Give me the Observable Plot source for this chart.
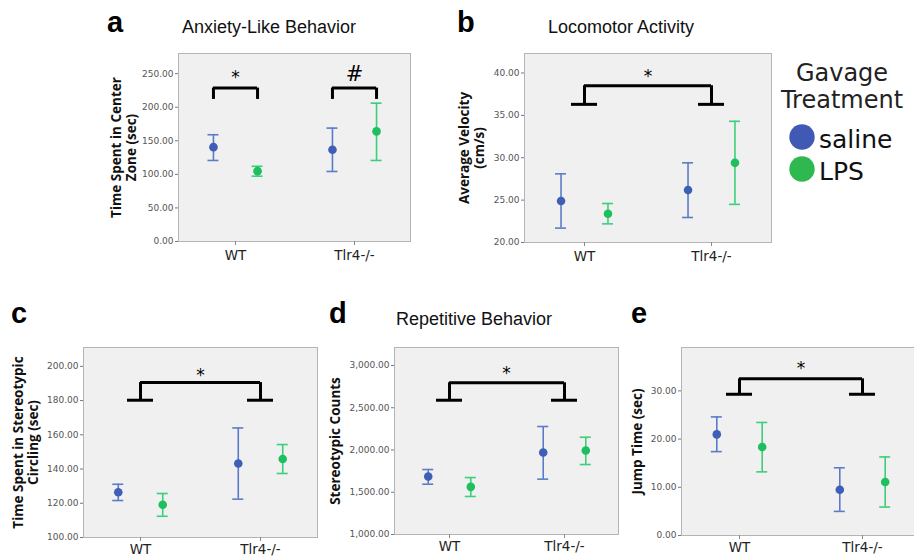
<!DOCTYPE html>
<html>
<head>
<meta charset="utf-8">
<script src="https://cdn.jsdelivr.net/npm/d3@7"></script>
<script src="https://cdn.jsdelivr.net/npm/@observablehq/plot@0.6"></script>
<style>
  html, body { margin: 0; padding: 0; background: #fff; overflow: hidden; }
  #root { position: relative; width: 914px; height: 558px; font-family: "Liberation Sans", Arial, sans-serif; }
  .abs { position: absolute; }
  .letter { position: absolute; font-weight: bold; font-size: 29px; line-height: 1; color: #000; }
  .ptitle { position: absolute; font-size: 18px; line-height: 1; color: #111; white-space: nowrap; }
  .legtitle { position: absolute; font-family: "DejaVu Sans", sans-serif; font-size: 24px; line-height: 27px; color: #222; text-align: center; width: 150px; }
</style>
</head>
<body>
<div id="root"></div>
<script>
// ---------------- DATA ----------------
const groups = ["WT", "Tlr4-/-"];
const treatments = ["saline", "LPS"];
// order of values: WT saline, WT LPS, Tlr4-/- saline, Tlr4-/- LPS

// a: Anxiety-Like Behavior — Time Spent in Center Zone (sec)
const anxietyMean = [140.5, 104.8, 136.6, 164];
const anxietyLow  = [120.7, 97.3, 104.3, 120.7];
const anxietyHigh = [159, 112, 168.9, 206];
const anxietyTicks = [0, 50, 100, 150, 200, 250];

// b: Locomotor Activity — Average Velocity (cm/s)
const velocityMean = [24.9, 23.4, 26.2, 29.4];
const velocityLow  = [21.7, 22.2, 22.95, 24.5];
const velocityHigh = [28.1, 24.6, 29.4, 34.3];
const velocityTicks = [20, 25, 30, 35, 40];

// c: Time Spent in Stereotypic Circling (sec)
const circlingMean = [126.4, 119.1, 143.2, 145.9];
const circlingLow  = [121.6, 112.4, 122.4, 137.4];
const circlingHigh = [131.1, 125.7, 164, 154.3];
const circlingTicks = [100, 120, 140, 160, 180, 200];

// d: Repetitive Behavior — Stereotypic Counts
const countsMean = [1686, 1564, 1970, 1994];
const countsLow  = [1595, 1450, 1655, 1828];
const countsHigh = [1769, 1674, 2278, 2151];
const countsTicks = [1000, 1500, 2000, 2500, 3000];

// e: Jump Time (sec)
const jumpMean = [20.97, 18.35, 9.5, 11.1];
const jumpLow  = [17.4, 13.2, 5.0, 5.9];
const jumpHigh = [24.6, 23.45, 14.05, 16.3];
const jumpTicks = [0, 10, 20, 30];

// significance brackets: [foot level, top level, symbol level]
const anxietyBracket  = [211.6, 228.5, 247];
const velocityBracket = [36.3, 38.5, 39.9];
const circlingBracket = [180.2, 190.5, 196.6];
const countsBracket   = [2589, 2795, 2941];
const jumpBracket     = [29.3, 32.5, 35.2];

// ---------------- STYLE ----------------
const dotColor  = {saline: "#3e5fb5", LPS: "#1dbf5e"};
const lineColor = {saline: "#5a7cc8", LPS: "#3ccf7a"};
const fmt = d3.format(",.2f");

function rows(mean, low, high) {
  const out = [];
  groups.forEach((g, gi) => treatments.forEach((t, ti) => {
    const i = gi * 2 + ti;
    out.push({group: g, treatment: t, mean: mean[i], low: low[i], high: high[i]});
  }));
  return out;
}

function panel(cfg) {
  const data = rows(cfg.mean, cfg.low, cfg.high);
  const frameW = cfg.width - cfg.ml - cfg.mr;
  const off = 0.095 * frameW;
  const marks = [
    Plot.frame({fill: "#f0f0f0", stroke: "#b4b4b4"}),
    Plot.axisY(cfg.ticks, {tickSize: 3, tickPadding: 2, tickFormat: fmt, fontSize: 9, fill: "#555", stroke: "#777", fontFamily: "DejaVu Sans, sans-serif"}),
    Plot.axisX(groups, {tickSize: 4, tickPadding: cfg.xpad, fontSize: 13.5, fill: "#222", stroke: "#888", fontFamily: "DejaVu Sans, sans-serif", label: null}),
    Plot.text([cfg.ylabel], {frameAnchor: "left", textAnchor: "middle", lineAnchor: "middle", rotate: -90, dx: cfg.labelDx, text: d => d, fontWeight: "bold", fontSize: 13.5, lineHeight: 1.12, fill: "#111", fontFamily: "Open Sans, sans-serif"})
  ];
  for (const t of treatments) {
    const sub = data.filter(d => d.treatment === t);
    const dx = t === "saline" ? -off : off;
    marks.push(
      Plot.ruleX(sub, {x: "group", y1: "low", y2: "high", stroke: lineColor[t], strokeWidth: 1.6, dx}),
      Plot.ruleY(sub, {x1: "group", x2: "group", y: "low", insetLeft: -5.5, insetRight: -5.5, stroke: lineColor[t], strokeWidth: 1.6, dx}),
      Plot.ruleY(sub, {x1: "group", x2: "group", y: "high", insetLeft: -5.5, insetRight: -5.5, stroke: lineColor[t], strokeWidth: 1.6, dx}),
      Plot.dot(sub, {x: "group", y: "mean", r: 4.3, fill: dotColor[t], dx})
    );
  }
  const [foot, top, sym] = cfg.bracket;
  const bw = 3;
  if (cfg.within) {
    for (const [gi, s] of cfg.symbols.entries()) {
      const g = [groups[gi]];
      marks.push(
        Plot.ruleY(g, {x1: d => d, x2: d => d, y: () => top, insetLeft: -off, insetRight: -off, stroke: "#000", strokeWidth: bw}),
        Plot.ruleX(g, {x: d => d, y1: () => foot, y2: () => top, dx: -off, stroke: "#000", strokeWidth: bw}),
        Plot.ruleX(g, {x: d => d, y1: () => foot, y2: () => top, dx: off, stroke: "#000", strokeWidth: bw}),
        Plot.text(g, {x: d => d, y: () => sym, text: () => s, fontSize: s === "#" ? 21 : 17, fill: "#000", dy: s === "#" ? -1 : 2, fontFamily: "DejaVu Sans, sans-serif"})
      );
    }
  } else {
    marks.push(
      Plot.ruleY([top], {x1: () => groups[0], x2: () => groups[1], y: d => d, stroke: "#000", strokeWidth: bw}),
      Plot.ruleX(groups, {x: d => d, y1: () => foot, y2: () => top, stroke: "#000", strokeWidth: bw}),
      Plot.ruleY(groups, {x1: d => d, x2: d => d, y: () => foot, insetLeft: -13, insetRight: -13, stroke: "#000", strokeWidth: bw}),
      Plot.text([sym], {y: d => d, text: () => "*", fontSize: 17, dy: 3, fill: "#000", fontFamily: "DejaVu Sans, sans-serif"})
    );
  }
  const svg = Plot.plot({
    width: cfg.width, height: cfg.height,
    marginLeft: cfg.ml, marginRight: cfg.mr, marginTop: cfg.mt, marginBottom: cfg.mb,
    style: {background: "transparent", overflow: "visible"},
    x: {type: "point", domain: groups, padding: 0.47},
    y: {domain: cfg.domain},
    marks
  });
  svg.classList.add("abs");
  svg.style.left = cfg.left + "px";
  svg.style.top = cfg.top + "px";
  return svg;
}

const root = document.getElementById("root");

root.append(panel({left: 100, top: 40, width: 320, height: 230, ml: 78, mr: 10, mt: 13, mb: 29, xpad: 5,
  mean: anxietyMean, low: anxietyLow, high: anxietyHigh, ticks: anxietyTicks, domain: [0, 280],
  ylabel: "Time Spent in Center\nZone (sec)", labelDx: -54.5,
  bracket: anxietyBracket, within: true, symbols: ["*", "#"]}));

root.append(panel({left: 450, top: 40, width: 330, height: 230, ml: 74, mr: 9, mt: 13, mb: 28, xpad: 5,
  mean: velocityMean, low: velocityLow, high: velocityHigh, ticks: velocityTicks, domain: [20, 42.3],
  ylabel: "Average Velocity\n(cm/s)", labelDx: -53, bracket: velocityBracket}));

root.append(panel({left: 0, top: 330, width: 325, height: 228, ml: 83, mr: 8, mt: 17, mb: 21, xpad: 3,
  mean: circlingMean, low: circlingLow, high: circlingHigh, ticks: circlingTicks, domain: [100, 211],
  ylabel: "Time Spent in Stereotypic\nCircling (sec)", labelDx: -57.5, bracket: circlingBracket}));

root.append(panel({left: 325, top: 330, width: 300, height: 228, ml: 69, mr: 7, mt: 17, mb: 24, xpad: 3,
  mean: countsMean, low: countsLow, high: countsHigh, ticks: countsTicks, domain: [1000, 3213],
  ylabel: "Stereotypic Counts", labelDx: -59, bracket: countsBracket}));

root.append(panel({left: 625, top: 330, width: 295, height: 228, ml: 56, mr: 0, mt: 17, mb: 23, xpad: 3,
  mean: jumpMean, low: jumpLow, high: jumpHigh, ticks: jumpTicks, domain: [0, 39],
  ylabel: "Jump Time (sec)", labelDx: -44, bracket: jumpBracket}));

function addText(cls, text, left, top) {
  const d = document.createElement("div");
  d.className = cls; d.textContent = text;
  d.style.left = left + "px"; d.style.top = top + "px";
  root.append(d);
}
addText("letter", "a", 107, 8);
addText("letter", "b", 457, 8);
addText("letter", "c", 11, 299);
addText("letter", "d", 329, 299);
addText("letter", "e", 631, 299);
addText("ptitle", "Anxiety-Like Behavior", 182, 18);
addText("ptitle", "Locomotor Activity", 548, 18);
addText("ptitle", "Repetitive Behavior", 396, 310);

// legend
const lt = document.createElement("div");
lt.className = "legtitle";
lt.innerHTML = "Gavage<br>Treatment";
lt.style.left = "767px"; lt.style.top = "60px";
root.append(lt);
const leg = d3.create("svg").attr("width", 130).attr("height", 80)
  .style("position", "absolute").style("left", "784px").style("top", "118px");
const legColors = {saline: "#4059b5", LPS: "#2fb84f"};
treatments.forEach((t, i) => {
  const g = leg.append("g").attr("transform", `translate(0, ${i * 32})`);
  g.append("circle").attr("cx", 18).attr("cy", 19).attr("r", 12.7).attr("fill", legColors[t]);
  g.append("text").attr("x", 35).attr("y", 30).text(t)
    .attr("font-family", "DejaVu Sans, sans-serif").attr("font-size", 25).attr("fill", "#111");
});
root.append(leg.node());
</script>
</body>
</html>
